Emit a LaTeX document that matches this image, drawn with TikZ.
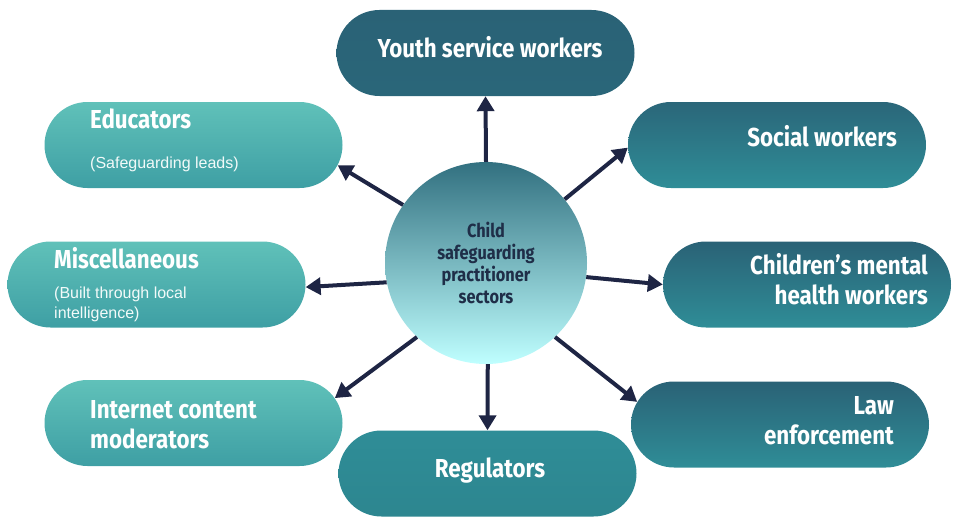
\documentclass[tikz,border=0pt]{standalone}
\usepackage{fontspec}
\setmainfont{Fira Sans}
\newfontfamily\ttlfont[FakeStretch=0.86]{Fira Sans}
\newfontfamily\subfont{Liberation Sans}
\usetikzlibrary{shapes.misc,arrows.meta}

\definecolor{navy}{HTML}{1E2544}
\definecolor{hubtxt}{HTML}{1F2E48}
\definecolor{lighttop}{HTML}{60C1B9}
\definecolor{lightbot}{HTML}{3E9FA4}
\definecolor{darktop}{HTML}{2A6276}
\definecolor{darkbot}{HTML}{2F8D97}

\tikzset{
  sector/.style={shape=rounded rectangle, minimum width=298pt, minimum height=86pt, inner sep=0pt},
  lightbox/.style={sector, top color=lighttop, bottom color=lightbot},
  darkbox/.style={sector, top color=darktop, bottom color=darkbot},
  ttl/.style={font=\ttlfont\bfseries\fontsize{26}{30}\selectfont, text=white, inner sep=0pt},
  sub/.style={font=\subfont\fontsize{16}{20}\selectfont, text=white!92!lighttop, inner sep=0pt, align=left},
  hub/.style={circle, minimum size=202pt, inner sep=0pt, top color=darktop!85!lighttop, bottom color=cyan!25!white,
    font=\ttlfont\bfseries\fontsize{19}{22}\selectfont, text=hubtxt, align=center},
  spoke/.style={-{Triangle[length=15pt,width=17pt]}, line width=4pt, draw=navy}
}

\begin{document}
\begin{tikzpicture}[x=1pt,y=-1pt]
  \useasboundingbox (0,0) rectangle (953,519);

  % sector boxes
  \node[darkbox, top color=darktop, bottom color=darktop!90!darkbot] (yth) at (485.5,53) {};
  \node[lightbox] (edu) at (193.5,145) {};
  \node[darkbox, top color=darktop!90!darkbot] (soc) at (777,145) {};
  \node[lightbox] (misc) at (156.5,284.5) {};
  \node[darkbox, minimum width=288pt] (chld) at (807,284.5) {};
  \node[lightbox] (inet) at (193.5,423) {};
  \node[darkbox] (law) at (780,424.5) {};
  \node[darkbox, top color=darkbot, bottom color=darkbot!95!black] (reg) at (487.5,473.5) {};

  % centre
  \node[hub] (hub) at (486,263) {Child\\safeguarding\\practitioner\\sectors};

  % labels (base = last line)
  \node[ttl, anchor=base] (ythT) at (490,58) {Youth service workers};
  \node[ttl, anchor=base west] (eduT) at (90,128) {Educators};
  \node[sub, anchor=base west] (eduS) at (90,168) {(Safeguarding leads)};
  \node[ttl, anchor=base east] (socT) at (897,146) {Social workers};
  \node[ttl, anchor=base west] (miscT) at (54,268) {Miscellaneous};
  \node[sub, anchor=base west] (miscS) at (54,318) {(Built through local\\intelligence)};
  \node[ttl, anchor=base east, align=right] (chldT) at (928,304) {Children’s mental\\health workers};
  \node[ttl, anchor=base west, align=left] (inetT) at (90,448) {Internet content\\moderators};
  \node[ttl, anchor=base east, align=right] (lawT) at (894,444) {Law\\enforcement};
  \node[ttl, anchor=base] (regT) at (490,477) {Regulators};

  % spokes
  \draw[spoke] (hub.90) -- (yth.south);
  \draw[spoke] (hub.145.4) -- (edu.-8.6);
  \draw[spoke] (hub.39.3) -- (soc.181);
  \draw[spoke] (hub.191.4) -- (misc.-1);
  \draw[spoke] (hub.-8.4) -- (chld.west);
  \draw[spoke] (hub.227.4) -- (inet.10);
  \draw[spoke] (hub.-47) -- (law.171);
  \draw[spoke] (hub.-89.4) -- (reg.north);
\end{tikzpicture}
\end{document}
